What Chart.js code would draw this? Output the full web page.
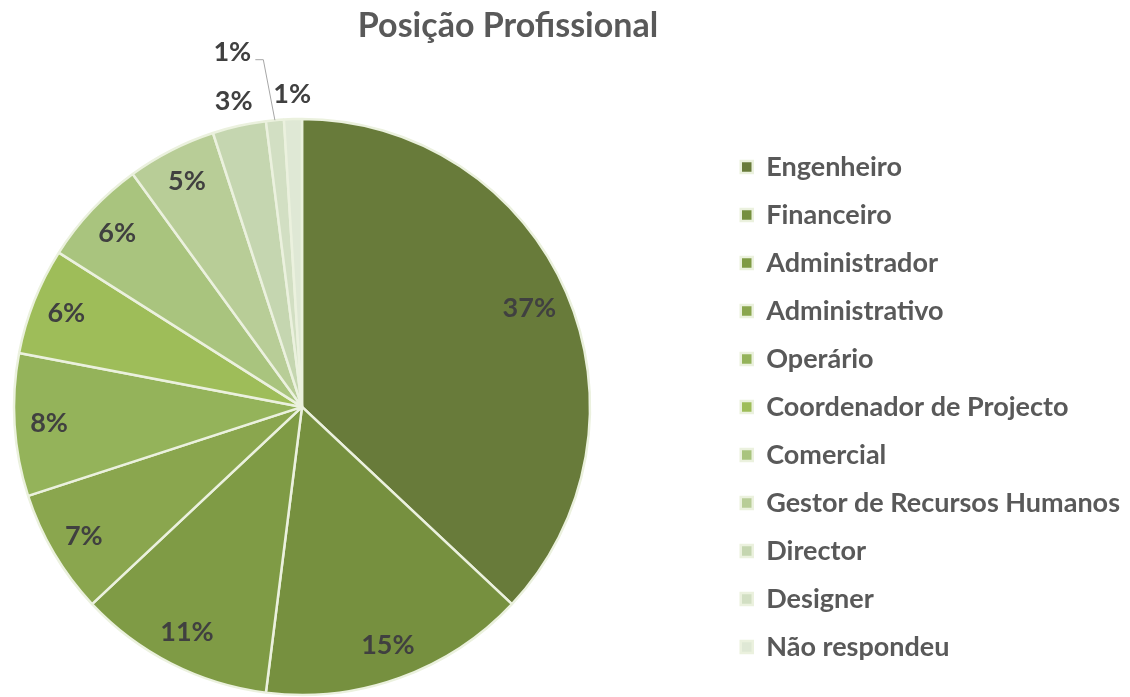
<!DOCTYPE html>
<html lang="pt">
<head>
    <meta charset="UTF-8">
    <title>Posição Profissional</title>
    <style>
        body {
            margin: 0;
            padding: 0;
            background-color: #fff;
        }

        canvas {
            display: block;
        }
    </style>
</head>
<body>
    <canvas id="posicaoChart" width="1130" height="697"></canvas>

    <script src="https://cdn.jsdelivr.net/npm/chart.js"></script>

    <script>
        // Dados (percentagens)
        const categorias = ['Engenheiro', 'Financeiro', 'Administrador', 'Administrativo', 'Operário',
            'Coordenador de Projecto', 'Comercial', 'Gestor de Recursos Humanos', 'Director',
            'Designer', 'Não respondeu'];
        const percentagens = [37, 15, 11, 7, 8, 6, 6, 5, 3, 1, 1];

        const cores = ['#687b3a', '#76903f', '#7f9b45', '#8aa64e', '#94b35a', '#9ebd59',
            '#a9c47e', '#b8cd97', '#c5d6b0', '#d2dfc3', '#dfe8d5'];

        Chart.defaults.font.family = 'Lato, "Open Sans", sans-serif';

        // Desloca a área do gráfico para a esquerda (tarte mais afastada da legenda)
        const deslocaTarte = {
            id: 'deslocaTarte',
            afterLayout(chart) {
                const a = chart.chartArea;
                a.left = a.right - 2 * (a.right - 302);
                a.width = a.right - a.left;
            }
        };

        // Etiquetas de percentagem desenhadas a partir dos arcos
        const etiquetas = {
            id: 'etiquetas',
            afterDatasetsDraw(chart) {
                const ctx = chart.ctx;
                const meta = chart.getDatasetMeta(0);
                ctx.save();
                ctx.font = 'bold 27px Lato, "Open Sans", sans-serif';
                ctx.fillStyle = '#404040';
                ctx.textAlign = 'center';
                ctx.textBaseline = 'middle';
                meta.data.forEach((arc, i) => {
                    const p = arc.getProps(['x', 'y', 'startAngle', 'endAngle', 'outerRadius'], true);
                    const mid = (p.startAngle + p.endAngle) / 2;
                    const v = percentagens[i];
                    let r = p.outerRadius * 0.88;
                    if (v < 5) r = p.outerRadius + 25;
                    if (i === 0) r = p.outerRadius * 0.86;
                    if (i === 9) {
                        // rótulo afastado com linha de chamada
                        const lx = p.x + (p.outerRadius + 73) * Math.cos(mid - 0.1);
                        const ly = p.y + (p.outerRadius + 73) * Math.sin(mid - 0.1);
                        ctx.fillText(v + '%', lx, ly);
                        ctx.strokeStyle = '#a6a6a6';
                        ctx.lineWidth = 1;
                        ctx.beginPath();
                        ctx.moveTo(lx + 23, ly + 7);
                        ctx.lineTo(lx + 31, ly + 7);
                        ctx.lineTo(p.x + p.outerRadius * Math.cos(mid), p.y + p.outerRadius * Math.sin(mid));
                        ctx.stroke();
                        return;
                    }
                    ctx.fillText(v + '%', p.x + r * Math.cos(mid), p.y + r * Math.sin(mid));
                });
                ctx.restore();
            }
        };

        new Chart(document.getElementById('posicaoChart'), {
            type: 'pie',
            data: {
                labels: categorias,
                datasets: [{
                    data: percentagens,
                    backgroundColor: cores,
                    borderColor: '#ebf1de',
                    borderWidth: 2.5
                }]
            },
            options: {
                responsive: false,
                animation: false,
                radius: 288,
                layout: {
                    padding: { left: -114, right: 0, top: 0, bottom: 0 }
                },
                plugins: {
                    title: {
                        display: true,
                        text: 'Posição Profissional',
                        color: '#595959',
                        font: { size: 34, weight: 'bold' },
                        padding: { top: 6, bottom: 70 }
                    },
                    legend: {
                        position: 'right',
                        fullSize: false,
                        labels: {
                            color: '#595959',
                            font: { size: 27, weight: 'bold' },
                            boxWidth: 12,
                            boxHeight: 12,
                            padding: 21
                        }
                    },
                    tooltip: { enabled: false }
                }
            },
            plugins: [deslocaTarte, etiquetas]
        });
    </script>
</body>
</html>
